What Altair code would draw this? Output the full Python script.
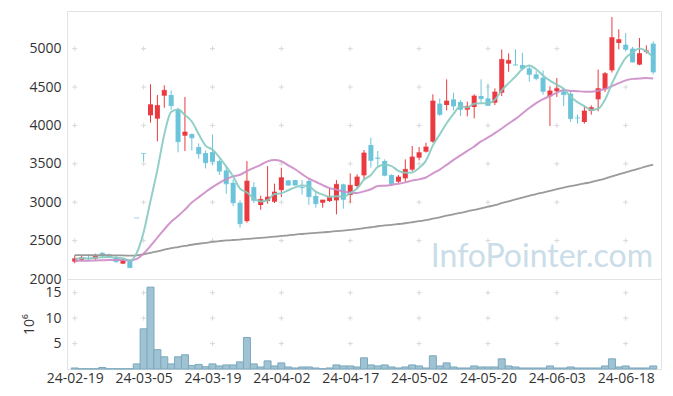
import altair as alt
import pandas as pd

# ---- data (daily candles, KRW) ----
opens = [2225, 2250, 2265, 2265, 2340, 2317, 2283, 2200, 2235, 2795,
         3635, 4131, 4088, 4387, 4396, 4209, 3866, 3887, 3718, 3640,
         3653, 3536, 3414, 3253, 2993, 2754, 3197, 2963, 3015, 3006,
         3158, 3284, 3288, 3195, 3276, 3081, 2994, 3016, 3024, 3233,
         3094, 3211, 3350, 3745, 3580, 3537, 3354, 3267, 3311, 3424,
         3580, 3658, 3788, 4283, 4266, 4339, 4305, 4205, 4240, 4383,
         4352, 4296, 4426, 4804, 4790, 4786, 4743, 4665, 4622, 4379,
         4444, 4444, 4414, 4100, 4045, 4188, 4340, 4470, 4718, 5074,
         5052, 5000, 4792, 4960, 5065]
highs = [2310, 2300, 2320, 2330, 2352, 2330, 2300, 2260, 2248, 2795,
         3635, 4535, 4396, 4522, 4457, 4231, 4370, 3896, 3766, 3675,
         3883, 3557, 3470, 3297, 3024, 3536, 3262, 3084, 3470, 3241,
         3449, 3290, 3290, 3288, 3311, 3137, 3029, 3189, 3289, 3241,
         3376, 3363, 3680, 3840, 3667, 3558, 3363, 3354, 3558, 3732,
         3719, 3775, 4405, 4352, 4600, 4426, 4331, 4309, 4405, 4600,
         4543, 4483, 4990, 4938, 4990, 4947, 4786, 4708, 4718, 4510,
         4618, 4488, 4436, 4141, 4249, 4262, 4727, 4696, 5412, 5252,
         5204, 5022, 5139, 5043, 5095]
lows = [2205, 2230, 2245, 2250, 2278, 2270, 2213, 2195, 2148, 2795,
        3530, 4036, 3793, 4231, 4205, 3649, 3667, 3674, 3566, 3440,
        3492, 3353, 3110, 2950, 2668, 2733, 2989, 2902, 2980, 2989,
        3067, 3215, 3220, 3100, 2964, 2929, 2929, 3003, 2842, 2916,
        2994, 3181, 3298, 3450, 3450, 3337, 3211, 3250, 3267, 3406,
        3545, 3645, 3775, 4122, 4196, 4196, 4122, 4118, 4092, 4296,
        4253, 4266, 4383, 4700, 4780, 4717, 4570, 4587, 4401, 3993,
        4371, 4253, 4045, 4024, 4024, 4141, 4184, 4436, 4688, 4991,
        4965, 4818, 4783, 4935, 4666]
closes = [2265, 2275, 2265, 2300, 2304, 2287, 2226, 2239, 2148, 2795,
          3635, 4270, 4260, 4457, 4257, 3788, 3914, 3839, 3631, 3514,
          3527, 3405, 3240, 2993, 2720, 3275, 3024, 3037, 3067, 3132,
          3319, 3223, 3223, 3188, 3072, 2981, 3029, 3072, 3233, 3037,
          3220, 3328, 3641, 3545, 3571, 3350, 3241, 3328, 3428, 3589,
          3645, 3719, 4318, 4144, 4318, 4253, 4209, 4248, 4383, 4348,
          4261, 4435, 4860, 4847, 4786, 4743, 4665, 4613, 4444, 4449,
          4479, 4401, 4089, 4097, 4188, 4232, 4479, 4674, 5143, 5117,
          4991, 4826, 4935, 4970, 4696]
# volume, millions of shares
volumes = [0.2, 0.05, 0.05, 0.05, 0.3, 0.05, 0.05, 0.05, 0.05, 1.0,
           7.9, 16.1, 3.8, 2.4, 1.0, 2.4, 2.8, 0.7, 0.9, 0.45,
           1.0, 0.6, 0.8, 0.8, 1.4, 6.2, 1.0, 0.4, 1.6, 0.6,
           1.2, 0.4, 0.2, 0.4, 0.4, 0.2, 0.05, 0.2, 0.8, 0.6,
           0.6, 0.4, 2.2, 0.8, 0.6, 0.8, 0.4, 0.2, 0.4, 0.8,
           0.6, 0.2, 2.6, 0.6, 1.2, 0.4, 0.2, 0.2, 0.6, 0.4,
           0.4, 0.4, 2.0, 0.6, 0.4, 0.2, 0.2, 0.2, 0.2, 0.6,
           0.2, 0.2, 0.4, 0.2, 0.2, 0.2, 0.2, 0.6, 2.0, 0.4,
           0.6, 0.2, 0.2, 0.2, 0.6]
# 20-day average for the first days (its window reaches before the chart)
ma20_head = [2235, 2237, 2238, 2241, 2244, 2246, 2246, 2246, 2242, 2262,
             2332, 2432, 2540, 2646, 2746, 2820, 2905, 2995, 3065]
# long moving average (grey line)
ma_long = [2312, 2310, 2310, 2309, 2309, 2309, 2307, 2307, 2304, 2309,
           2322, 2341, 2361, 2381, 2401, 2416, 2431, 2446, 2459, 2471,
           2483, 2493, 2502, 2508, 2513, 2522, 2529, 2536, 2543, 2551,
           2561, 2569, 2579, 2586, 2594, 2601, 2607, 2615, 2623, 2631,
           2640, 2649, 2663, 2674, 2687, 2697, 2706, 2716, 2726, 2739,
           2753, 2766, 2786, 2803, 2824, 2843, 2861, 2881, 2900, 2921,
           2941, 2961, 2987, 3011, 3036, 3060, 3083, 3106, 3126, 3148,
           3170, 3190, 3208, 3225, 3244, 3263, 3284, 3307, 3335, 3363,
           3390, 3414, 3440, 3466, 3490]
tick_labels = ["24-02-19", "24-03-05", "24-03-19", "24-04-02", "24-04-17",
               "24-05-02", "24-05-20", "24-06-03", "24-06-18"]
price_ticks = [2000, 2500, 3000, 3500, 4000, 4500, 5000]
vol_ticks = [5, 10, 15]

n = len(closes)
idx = list(range(n))
ma5 = [sum(closes[max(0, i - 4):i + 1]) / len(closes[max(0, i - 4):i + 1]) for i in idx]
ma20 = ma20_head + [sum(closes[i - 19:i + 1]) / 20 for i in range(len(ma20_head), n)]

df = pd.DataFrame({"i": idx, "open": opens, "high": highs, "low": lows,
                   "close": closes, "vol": volumes, "ma5": ma5, "ma20": ma20,
                   "malong": ma_long})

x_ticks = list(range(0, 10 * len(tick_labels), 10))
grid_price = pd.DataFrame([{"i": a, "v": b} for a in x_ticks for b in price_ticks[1:]])
grid_vol = pd.DataFrame([{"i": a, "v": b} for a in x_ticks for b in vol_ticks])

# ---- style ----
RED = "#ea3a40"
BLUE = "#6cc4da"
TEAL = "#86cbc1"
PINK = "#cc8cc8"
GREY = "#9a9a9a"
FONT = "Open Sans"
W, H1, H2 = 594, 268, 90

xscale = alt.Scale(domain=[-0.4, 84.4], nice=False, zero=False)
yscale = alt.Scale(domain=[2000, 5490], nice=False, zero=False)
vscale = alt.Scale(domain=[0, 17.7], nice=False, zero=True)

price_axis = alt.Axis(values=price_ticks, format="d", title=None, grid=False, ticks=False,
                      domain=False, labelFont=FONT, labelFontSize=14,
                      labelColor="#333333", labelPadding=6)
vol_axis = alt.Axis(values=vol_ticks, format="d", title="10⁶", grid=False, ticks=False,
                    domain=False, labelFont=FONT, labelFontSize=14,
                    labelColor="#333333", labelPadding=6, titleFont=FONT,
                    titleFontSize=14, titleFontWeight="normal",
                    titleColor="#333333", titlePadding=8)
label_expr = "[" + ",".join("'%s'" % t for t in tick_labels) + "][round(datum.value/10)]"
x_axis = alt.Axis(values=x_ticks, labelExpr=label_expr, title=None, grid=False,
                  ticks=False, domain=False, labelFont=FONT, labelFontSize=14,
                  labelColor="#333333", labelPadding=2, labelFlush=False,
                  labelOverlap=False)


def xp():
    return alt.X("i:Q", scale=xscale, axis=None)


def xv():
    return alt.X("i:Q", scale=xscale, axis=x_axis)


def yp(field):
    return alt.Y(field, scale=yscale, axis=price_axis)


def yv(field):
    return alt.Y(field, scale=vscale, axis=vol_axis)


color = alt.when("datum.close > datum.open").then(alt.value(RED)).otherwise(alt.value(BLUE))
cross = "M-1,0L1,0M0,-1L0,1"

base = alt.Chart(df)

crosses_p = alt.Chart(grid_price).mark_point(
    shape=cross, size=25, filled=False, stroke="#d9d9d9", strokeWidth=1, opacity=1
).encode(x=xp(), y=yp("v:Q"))

watermark = alt.Chart(pd.DataFrame({"t": ["InfoPointer.com"]})).mark_text(
    align="right", baseline="alphabetic", font="Lato", fontSize=32,
    color="#cadde8"
).encode(x=alt.value(W - 8), y=alt.value(H1 - 12), text="t:N")

wick = base.mark_rule(strokeWidth=1).encode(x=xp(), y=yp("low:Q"), y2="high:Q", color=color)
body = base.mark_bar(size=5, orient="vertical").encode(x=xp(), y=yp("open:Q"), y2="close:Q", color=color)
doji = base.mark_tick(orient="horizontal", size=5, thickness=1).encode(x=xp(), y=yp("close:Q"), color=color)

l5 = base.mark_line(color=TEAL, strokeWidth=2, interpolate="monotone", opacity=0.9).encode(x=xp(), y=yp("ma5:Q"))
l20 = base.mark_line(color=PINK, strokeWidth=2, interpolate="monotone", opacity=0.9).encode(x=xp(), y=yp("ma20:Q"))
llong = base.mark_line(color=GREY, strokeWidth=1.8, interpolate="monotone").encode(x=xp(), y=yp("malong:Q"))

price = alt.layer(crosses_p, watermark, wick, body, doji, llong, l20, l5).properties(width=W, height=H1)

crosses_v = alt.Chart(grid_vol).mark_point(
    shape=cross, size=25, filled=False, stroke="#d9d9d9", strokeWidth=1, opacity=1
).encode(x=xv(), y=yv("v:Q"))
bars = base.mark_bar(size=7, fill="#9fc3d3", stroke="#7ca9be", strokeWidth=1).encode(x=xv(), y=yv("vol:Q"))

volume = alt.layer(crosses_v, bars).properties(width=W, height=H2)

chart = alt.vconcat(price, volume, spacing=0, bounds="flush").properties(
    padding={"left": 14, "top": 2, "right": 2, "bottom": 4}
).configure_view(stroke="#e3e3e3", strokeWidth=1).configure_concat(spacing=0)

chart.save("out.html", embed_options={"renderer": "svg", "actions": False})
